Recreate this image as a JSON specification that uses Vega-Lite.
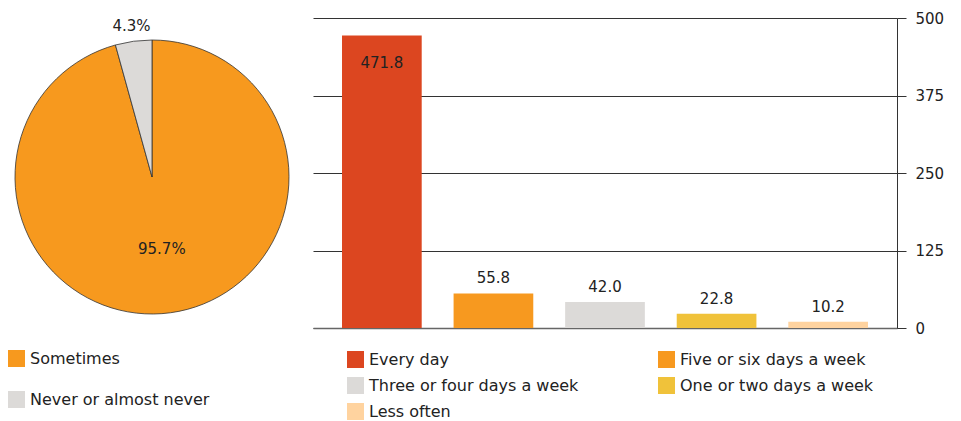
{
  "$schema": "https://vega.github.io/schema/vega-lite/v6.json",
  "padding": {"left": 0, "top": 11, "right": 0, "bottom": 0},
  "background": "white",
  "config": {
    "font": "DejaVu Sans",
    "view": {"stroke": null},
    "concat": {"spacing": 9}
  },
  "resolve": {"scale": {"color": "independent"}},
  "hconcat": [
    {
      "width": 304,
      "height": 318,
      "data": {
        "values": [
          {"category": "Sometimes", "share": 95.7, "label": "95.7%", "order": 1},
          {"category": "Never or almost never", "share": 4.3, "label": "4.3%", "order": 2}
        ]
      },
      "encoding": {
        "theta": {"field": "share", "type": "quantitative", "stack": true},
        "order": {"field": "order", "type": "quantitative"}
      },
      "layer": [
        {
          "mark": {"type": "arc", "outerRadius": 137, "stroke": "#333333", "strokeWidth": 0.8},
          "encoding": {
            "color": {
              "field": "category",
              "type": "nominal",
              "sort": null,
              "scale": {"domain": ["Sometimes", "Never or almost never"], "range": ["#f7991e", "#dcdad8"]},
              "legend": {
                "orient": "none",
                "legendX": 8,
                "legendY": 332,
                "title": null,
                "symbolType": "square",
                "symbolSize": 289,
                "symbolStrokeWidth": 0,
                "labelFontSize": 16,
                "labelColor": "#222222",
                "labelOffset": 5,
                "labelLimit": 400,
                "rowPadding": 24
              }
            }
          }
        },
        {
          "mark": {"type": "text", "radius": 73, "fontSize": 15, "fill": "#222222", "baseline": "middle"},
          "encoding": {
            "text": {"condition": {"test": "datum.share > 50", "field": "label"}, "value": ""}
          }
        },
        {
          "mark": {"type": "text", "radius": 152, "fontSize": 15, "fill": "#222222", "baseline": "middle"},
          "encoding": {
            "text": {"condition": {"test": "datum.share <= 50", "field": "label"}, "value": ""}
          }
        }
      ]
    },
    {
      "width": 584,
      "height": 310,
      "data": {
        "values": [
          {"frequency": "Every day", "value": 471.8},
          {"frequency": "Five or six days a week", "value": 55.8},
          {"frequency": "Three or four days a week", "value": 42.0},
          {"frequency": "One or two days a week", "value": 22.8},
          {"frequency": "Less often", "value": 10.2}
        ]
      },
      "encoding": {
        "x": {
          "field": "frequency",
          "type": "nominal",
          "sort": null,
          "scale": {"paddingInner": 0.2857, "paddingOuter": 0.26},
          "axis": {"labels": false, "ticks": false, "title": null, "domainColor": "#666666", "domainWidth": 1.5, "grid": false}
        },
        "y": {
          "field": "value",
          "type": "quantitative",
          "scale": {"domain": [0, 500]},
          "axis": {
            "orient": "right",
            "values": [0, 125, 250, 375, 500],
            "title": null,
            "grid": true,
            "gridColor": "#333333",
            "gridOpacity": 1,
            "domainColor": "#333333",
            "tickColor": "#333333",
            "tickSize": 9,
            "labelFontSize": 15,
            "labelColor": "#222222",
            "labelPadding": 9
          }
        }
      },
      "layer": [
        {
          "mark": {"type": "bar"},
          "encoding": {
            "color": {
              "field": "frequency",
              "type": "nominal",
              "sort": null,
              "scale": {
                "domain": ["Every day", "Three or four days a week", "Less often", "Five or six days a week", "One or two days a week"],
                "range": ["#dc4620", "#dcdad8", "#ffd39f", "#f7991f", "#f0c23a"]
              },
              "legend": {
                "orient": "none",
                "legendX": 34,
                "legendY": 333,
                "columns": 2,
                "columnPadding": 79,
                "title": null,
                "symbolType": "square",
                "symbolSize": 289,
                "symbolStrokeWidth": 0,
                "labelFontSize": 16,
                "labelColor": "#222222",
                "labelOffset": 5,
                "rowPadding": 9,
                "labelLimit": 400
              }
            }
          }
        },
        {
          "mark": {"type": "text", "baseline": "middle", "dy": 28, "fontSize": 15, "fill": "#222222"},
          "encoding": {
            "text": {"condition": {"test": "datum.value > 400", "field": "value", "type": "quantitative", "format": ".1f"}, "value": ""}
          }
        },
        {
          "mark": {"type": "text", "baseline": "middle", "dy": -15, "fontSize": 15, "fill": "#222222"},
          "encoding": {
            "text": {"condition": {"test": "datum.value <= 400", "field": "value", "type": "quantitative", "format": ".1f"}, "value": ""}
          }
        }
      ]
    }
  ]
}
